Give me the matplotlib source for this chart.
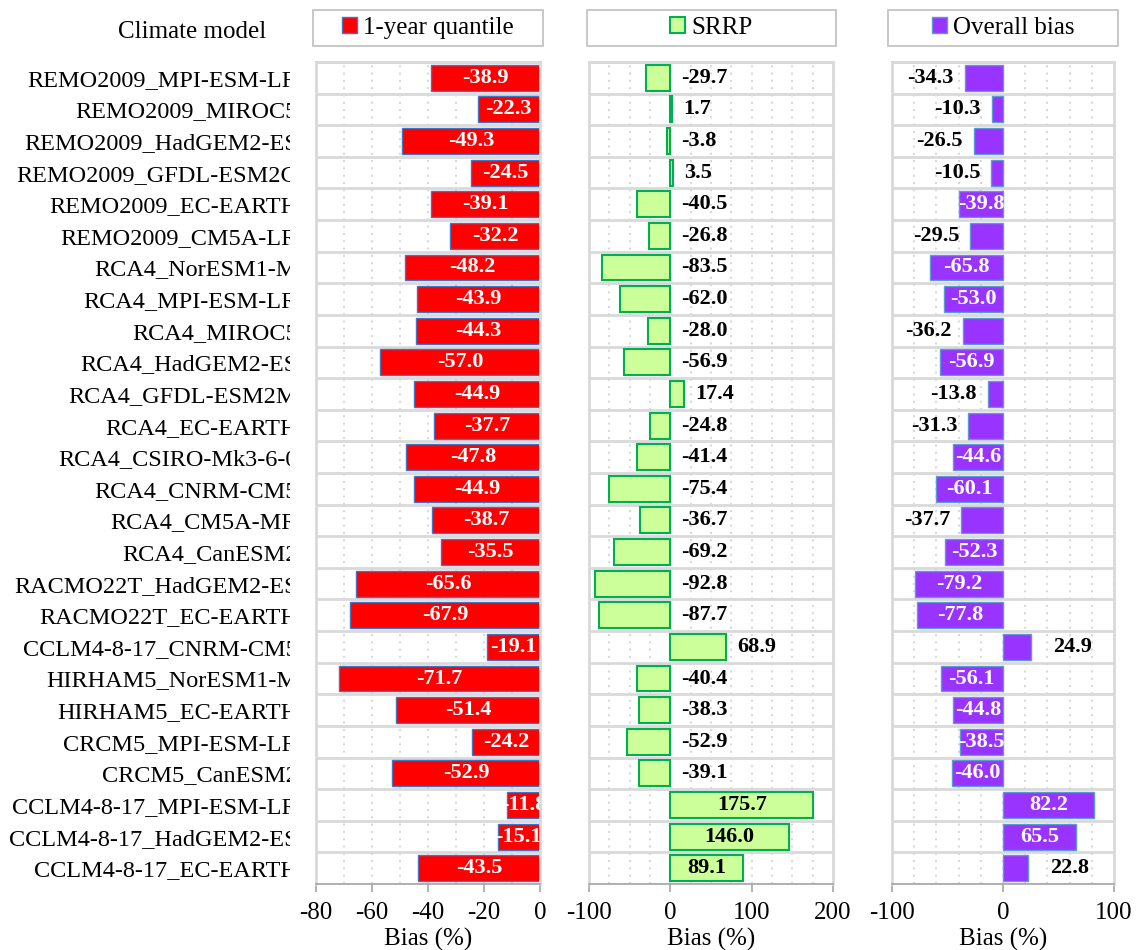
import matplotlib
matplotlib.use("Agg")
import matplotlib.pyplot as plt
import numpy as np
from matplotlib.patches import Rectangle
from matplotlib.transforms import Bbox, TransformedBbox
from matplotlib.ticker import MultipleLocator

plt.rcParams['font.family'] = ['Liberation Serif', 'DejaVu Serif']
plt.rcParams['axes.unicode_minus'] = False

# data
models = ["REMO2009_MPI-ESM-LR", "REMO2009_MIROC5", "REMO2009_HadGEM2-ES",
          "REMO2009_GFDL-ESM2G", "REMO2009_EC-EARTH", "REMO2009_CM5A-LR",
          "RCA4_NorESM1-M", "RCA4_MPI-ESM-LR", "RCA4_MIROC5", "RCA4_HadGEM2-ES",
          "RCA4_GFDL-ESM2M", "RCA4_EC-EARTH", "RCA4_CSIRO-Mk3-6-0", "RCA4_CNRM-CM5",
          "RCA4_CM5A-MR", "RCA4_CanESM2", "RACMO22T_HadGEM2-ES", "RACMO22T_EC-EARTH",
          "CCLM4-8-17_CNRM-CM5", "HIRHAM5_NorESM1-M", "HIRHAM5_EC-EARTH",
          "CRCM5_MPI-ESM-LR", "CRCM5_CanESM2", "CCLM4-8-17_MPI-ESM-LR",
          "CCLM4-8-17_HadGEM2-ES", "CCLM4-8-17_EC-EARTH"]
quantile_1yr = [-38.9, -22.3, -49.3, -24.5, -39.1, -32.2, -48.2, -43.9, -44.3, -57.0,
                -44.9, -37.7, -47.8, -44.9, -38.7, -35.5, -65.6, -67.9, -19.1, -71.7,
                -51.4, -24.2, -52.9, -11.8, -15.1, -43.5]
srrp = [-29.7, 1.7, -3.8, 3.5, -40.5, -26.8, -83.5, -62.0, -28.0, -56.9,
        17.4, -24.8, -41.4, -75.4, -36.7, -69.2, -92.8, -87.7, 68.9, -40.4,
        -38.3, -52.9, -39.1, 175.7, 146.0, 89.1]
overall = [-34.3, -10.3, -26.5, -10.5, -39.8, -29.5, -65.8, -53.0, -36.2, -56.9,
           -13.8, -31.3, -44.6, -60.1, -37.7, -52.3, -79.2, -77.8, 24.9, -56.1,
           -44.8, -38.5, -46.0, 82.2, 65.5, 22.8]

W, H = 1137, 950
fig = plt.figure(figsize=(W / 100, H / 100), dpi=100)

def px_axes(x0, x1, y0=62, y1=884):
    return fig.add_axes([x0 / W, 1 - y1 / H, (x1 - x0) / W, (y1 - y0) / H])

ax1 = px_axes(316, 540)
ax2 = px_axes(589, 833)
ax3 = px_axes(892, 1114)

y = np.arange(len(models))
grid_c = '#D9D9D9'

def style(ax, lim, major, minor):
    ax.set_xlim(*lim)
    ax.set_ylim(len(models) - 0.5, -0.5)
    ax.xaxis.set_major_locator(MultipleLocator(major))
    ax.xaxis.set_minor_locator(MultipleLocator(minor))
    ax.grid(axis='x', which='both', ls=(0, (1, 2.5)), color=grid_c, lw=1.5)
    ax.set_axisbelow(True)
    for i in range(len(models) + 1):
        ax.axhline(i - 0.5, color=grid_c, lw=2, zorder=0.5)
    for s in ['left', 'right', 'top']:
        ax.spines[s].set_color(grid_c)
        ax.spines[s].set_linewidth(2)
    ax.spines['bottom'].set_color('#A6A6A6')
    ax.spines['bottom'].set_linewidth(1.2)
    ax.tick_params(axis='x', which='major', direction='out', length=6, width=1.2,
                   color='#A6A6A6', labelsize=18, pad=7)
    ax.tick_params(axis='x', which='minor', length=0)
    ax.tick_params(axis='y', length=0)
    ax.set_xlabel('Bias (%)', fontsize=18, labelpad=3)

style(ax1, (-80, 0), 20, 10)
style(ax2, (-100, 200), 100, 25)
style(ax3, (-100, 100), 100, 20)

bh = 0.82
b1 = ax1.barh(y, quantile_1yr, height=bh, color='#FF0000', edgecolor='#4472C4', lw=1, zorder=2)
b2 = ax2.barh(y, srrp, height=bh, color='#CCFF99', edgecolor='#00B050', lw=1.5, zorder=2)
b3 = ax3.barh(y, overall, height=bh, color='#9933FF', edgecolor='#5B9BD5', lw=1, zorder=2)

ax2.set_yticks([])
ax3.set_yticks([])
ax1.set_yticks(y)
ax1.set_yticklabels(models, fontsize=17.5)
ax1.tick_params(axis='y', pad=13)
clip = TransformedBbox(Bbox([[0, 0], [290 / W, 1]]), fig.transFigure)
for lab in ax1.get_yticklabels():
    lab.set_clip_box(clip)
    lab.set_clip_on(True)

lbl = dict(fontsize=16, fontweight='bold', va='center', zorder=3)

for i, v in enumerate(quantile_1yr):
    ax1.text(v / 2, i, f"{v:.1f}", ha='center', color='white', clip_on=True, **lbl)

for i, v in enumerate(srrp):
    if v >= 80:
        ax2.text(v / 2, i, f"{v:.1f}", ha='center', color='black', **lbl)
    else:
        ax2.annotate(f"{v:.1f}", (max(v, 0), i), xytext=(8, 0), textcoords='offset points',
                     ha='left', color='black', **lbl)

for i, v in enumerate(overall):
    if abs(v) >= 38:
        ax3.text(v / 2, i, f"{v:.1f}", ha='center', color='white', **lbl)
    elif v < 0:
        ax3.annotate(f"{v:.1f}", (v, i), xytext=(-8, 0), textcoords='offset points',
                     ha='right', color='black', **lbl)
    else:
        ax3.annotate(f"{v:.1f}", (v, i), xytext=(16, 0), textcoords='offset points',
                     ha='left', color='black', **lbl)

# header boxes with legend entries
heads = [(313, 543, b1, '1-year quantile'), (587, 836, b2, 'SRRP'), (888, 1118, b3, 'Overall bias')]
for x0, x1, bars, name in heads:
    rect = [x0 / W, 1 - 46 / H, (x1 - x0) / W, 36 / H]
    fig.patches.append(Rectangle(rect[:2], rect[2], rect[3], transform=fig.transFigure,
                                 facecolor='white', edgecolor='#BFBFBF', lw=1.2))
    fig.legend([bars], [name], loc='center', bbox_to_anchor=rect, frameon=False,
               fontsize=18, handlelength=0.6, handleheight=0.6, handletextpad=0.25,
               borderpad=0, borderaxespad=0)

fig.text(192 / W, 1 - 32 / H, 'Climate model', ha='center', va='center', fontsize=18)

fig.savefig('out.png', dpi=100)
